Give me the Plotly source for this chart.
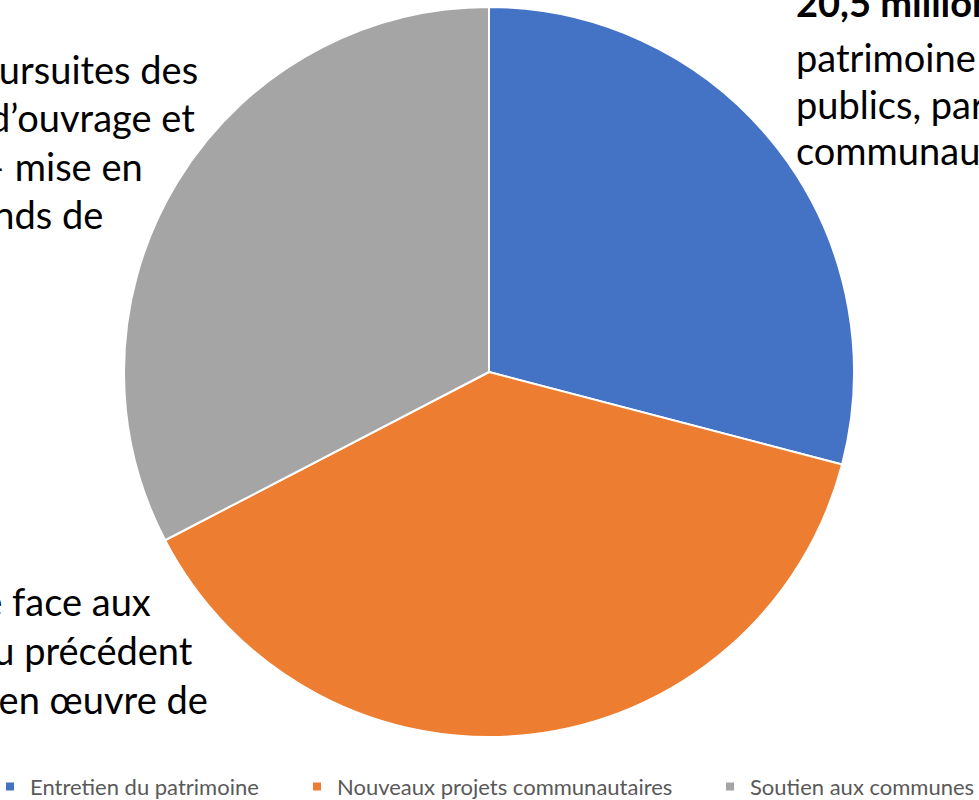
import plotly.graph_objects as go

# Répartition des investissements (millions d'euros)
categories = ["Entretien du patrimoine", "Nouveaux projets communautaires", "Soutien aux communes"]
valeurs = [20.5, 27.0, 23.0]
couleurs = ["#4472C4", "#ED7D31", "#A5A5A5"]

# textes des étiquettes (coupés par le cadre dans l'original)
texte_haut_droite = ["<b>20,5 millions d’euros</b>", "patrimoine (bâtiments", "publics, parcs, voiries", "communautaires)"]
texte_haut_gauche = ["poursuites des", "maîtrise d’ouvrage et", "– mise en", "fonds de"]
texte_bas_gauche = ["faire face aux", "du précédent", "mise en œuvre de"]

W, H = 979, 800
police = "Lato"
taille = 38

fig = go.Figure()
fig.add_trace(go.Pie(
    labels=categories,
    values=valeurs,
    sort=False,
    direction="clockwise",
    rotation=0,
    textinfo="none",
    hoverinfo="label+value+percent",
    marker=dict(colors=couleurs, line=dict(color="white", width=2)),
    domain=dict(x=[124 / W, 854 / W], y=[1 - 737 / H, 1 - 7 / H]),
    showlegend=False,
))

# légende : une entrée par légende pour garder les écarts de l'original
noms_legendes = ["legend", "legend2", "legend3"]
for cat, coul, nom in zip(categories, couleurs, noms_legendes):
    fig.add_trace(go.Scatter(
        x=[None], y=[None], mode="markers", name=cat, legend=nom,
        marker=dict(symbol="square", size=8, color=coul),
        hoverinfo="skip",
    ))

annotations = []
# bloc en haut à droite, aligné à gauche
ys_hd = [2, 57, 103.5, 150]
for i, ligne in enumerate(texte_haut_droite):
    annotations.append(dict(x=794 / W, y=1 - ys_hd[i] / H, text=ligne,
                            xanchor="left", yanchor="middle"))
# bloc en haut à gauche : on cale la fin de chaque ligne
fins_hg = [200, 197, 145, 105]
for i, ligne in enumerate(texte_haut_gauche):
    annotations.append(dict(x=fins_hg[i] / W, y=1 - (69 + 48.5 * i) / H, text=ligne,
                            xanchor="right", yanchor="middle"))
fins_bg = [153, 195, 210]
for i, ligne in enumerate(texte_bas_gauche):
    annotations.append(dict(x=fins_bg[i] / W, y=1 - (601 + 49 * i) / H, text=ligne,
                            xanchor="right", yanchor="middle"))
for a in annotations:
    a.update(xref="paper", yref="paper", showarrow=False,
             font=dict(family=police, size=taille, color="#000000"))

style_legende = dict(orientation="h", xanchor="left", y=-0.0095, yanchor="bottom",
                     font=dict(family=police, size=22, color="#595959"),
                     bgcolor="rgba(0,0,0,0)", itemwidth=30)
debuts_texte = [34, 341, 754]

fig.update_layout(
    width=W, height=H,
    margin=dict(l=0, r=0, t=0, b=0, autoexpand=False),
    paper_bgcolor="white",
    plot_bgcolor="white",
    annotations=annotations,
    xaxis=dict(visible=False),
    yaxis=dict(visible=False),
    legend=dict(style_legende, x=(debuts_texte[0] - 44) / W),
    legend2=dict(style_legende, x=(debuts_texte[1] - 44) / W),
    legend3=dict(style_legende, x=(debuts_texte[2] - 44) / W),
)

fig.write_html("out.html", config={"displayModeBar": False},
               post_script="document.body.style.margin='0px';")
